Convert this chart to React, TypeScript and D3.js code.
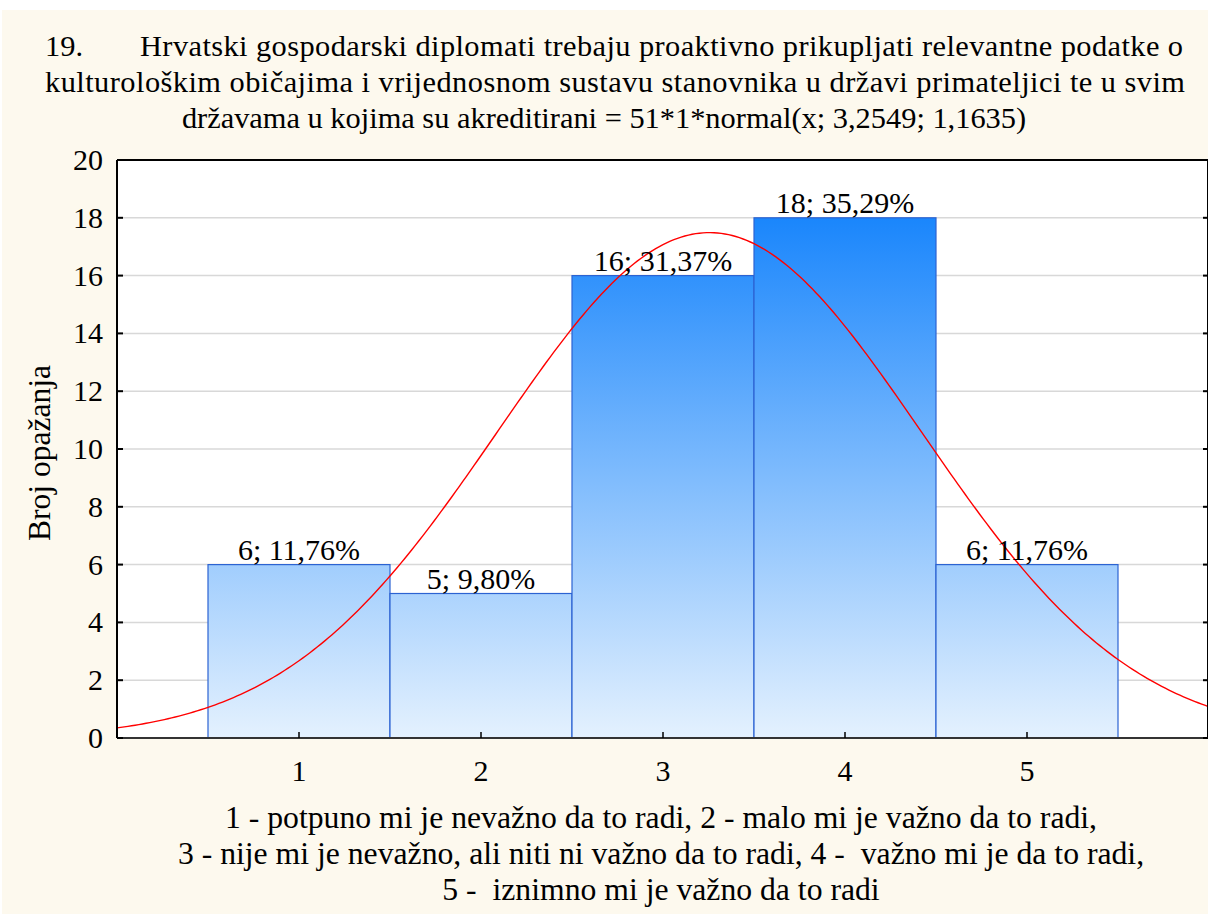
import React from "react";
import * as d3 from "d3";

const categories = [1, 2, 3, 4, 5];
const counts = [6, 5, 16, 18, 6];
const percentLabels = ["11,76%", "9,80%", "31,37%", "35,29%", "11,76%"];
const yTicks = [0, 2, 4, 6, 8, 10, 12, 14, 16, 18, 20];

// fitted curve from the title: 51*1*normal(x; 3,2549; 1,1635)
const fitN = 51;
const fitMean = 3.2549;
const fitSd = 1.1635;

const titleLines = [
  "Hrvatski gospodarski diplomati trebaju proaktivno prikupljati relevantne podatke o",
  "kulturološkim običajima i vrijednosnom sustavu stanovnika u državi primateljici te u svim",
  "državama u kojima su akreditirani = 51*1*normal(x; 3,2549; 1,1635)",
];
const captionLines = [
  "1 - potpuno mi je nevažno da to radi, 2 - malo mi je važno da to radi,",
  "3 - nije mi je nevažno, ali niti ni važno da to radi, 4 -\u00a0 važno mi je da to radi,",
  "5 -\u00a0 iznimno mi je važno da to radi",
];

const W = 1208;
const H = 914;
const left = 117;
const right = 1209;
const top = 160;
const bottom = 738;
const FONT = "'Liberation Serif', Tinos, 'Times New Roman'";

function T(props: any) {
  const { children, size, ...rest } = props;
  return (
    <text fontSize={size || 29} fill="#000" style={{ fontFamily: FONT }} {...rest}>
      {children}
    </text>
  );
}

export default function App() {
  const x = d3.scaleLinear().domain([0, 6]).range([left, right]);
  const y = d3.scaleLinear().domain([0, 20]).range([bottom, top]);

  const normal = (v: number) =>
    (fitN / (fitSd * Math.sqrt(2 * Math.PI))) *
    Math.exp(-((v - fitMean) ** 2) / (2 * fitSd * fitSd));
  const xs = d3.range(0, 6.001, 0.02);
  const curve = d3
    .line<number>()
    .x((d) => x(d))
    .y((d) => y(normal(d)))(xs);

  return (
    <svg width={W} height={H} style={{ position: "absolute", left: 0, top: 0 }}>
      <defs>
        <linearGradient
          id="barGrad"
          gradientUnits="userSpaceOnUse"
          x1={0}
          x2={0}
          y1={y(18)}
          y2={y(0)}
        >
          <stop offset="0%" stopColor="#1a86fc" />
          <stop offset="100%" stopColor="#e4f1fe" />
        </linearGradient>
        <clipPath id="plotClip">
          <rect x={left} y={top} width={right - left} height={bottom - top} />
        </clipPath>
      </defs>
      <rect x={0} y={0} width={W} height={H} fill="#ffffff" />
      <rect x={2} y={10} width={W} height={H} fill="#fdf9ee" />
      <rect x={left} y={top} width={right - left} height={bottom - top} fill="#ffffff" />

      {yTicks.map((t) => (
        <line
          key={"g" + t}
          x1={left}
          x2={right}
          y1={y(t)}
          y2={y(t)}
          stroke="#d8d8d8"
          strokeWidth={1.5}
        />
      ))}

      {categories.map((c, i) => (
        <rect
          key={"b" + c}
          x={x(c - 0.5)}
          y={y(counts[i])}
          width={x(c + 0.5) - x(c - 0.5)}
          height={y(0) - y(counts[i])}
          fill="url(#barGrad)"
          stroke="#2c63d2"
          strokeWidth={1.2}
        />
      ))}

      <path
        d={curve || ""}
        fill="none"
        stroke="#ff0000"
        strokeWidth={1.4}
        clipPath="url(#plotClip)"
      />

      {categories.map((c, i) => (
        <T key={"l" + c} x={x(c)} y={y(counts[i]) - 5} textAnchor="middle" size={30}>
          {counts[i] + "; " + percentLabels[i]}
        </T>
      ))}

      {/* frame */}
      <line x1={left} x2={right} y1={top} y2={top} stroke="#000" strokeWidth={2} />
      <line x1={left} x2={left} y1={top} y2={bottom} stroke="#000" strokeWidth={2} />
      <line x1={right - 1} x2={right - 1} y1={top} y2={bottom} stroke="#000" strokeWidth={2} />
      <line x1={left} x2={right} y1={bottom} y2={bottom} stroke="#333" strokeWidth={2} />

      {yTicks.map((t) => (
        <g key={"yt" + t}>
          <line x1={left} x2={left + 6} y1={y(t)} y2={y(t)} stroke="#000" strokeWidth={2} />
          <line x1={right - 6} x2={right} y1={y(t)} y2={y(t)} stroke="#000" strokeWidth={2} />
          <T x={103} y={y(t) + 10} textAnchor="end" size={30}>
            {t}
          </T>
        </g>
      ))}

      {categories.map((c) => (
        <g key={"xt" + c}>
          <line x1={x(c)} x2={x(c)} y1={bottom} y2={bottom - 6} stroke="#000" strokeWidth={1.5} />
          <T x={x(c)} y={781} textAnchor="middle" size={30}>
            {c}
          </T>
        </g>
      ))}

      <T
        transform={`translate(50, ${(top + bottom) / 2 + 4}) rotate(-90)`}
        textAnchor="middle"
        size={31.5}
      >
        Broj opažanja
      </T>

      <T x={45} y={56} size={30.4}>
        19.
      </T>
      <T x={140} y={56} textLength={1043} lengthAdjust="spacing" size={30.4}>
        {titleLines[0]}
      </T>
      <T x={45} y={92} textLength={1140} lengthAdjust="spacing" size={30.4}>
        {titleLines[1]}
      </T>
      <T x={604} y={128} textAnchor="middle" size={30.4}>
        {titleLines[2]}
      </T>

      {captionLines.map((l, i) => (
        <T key={"c" + i} x={661} y={828 + i * 36} textAnchor="middle" size={31.7}>
          {l}
        </T>
      ))}
    </svg>
  );
}
